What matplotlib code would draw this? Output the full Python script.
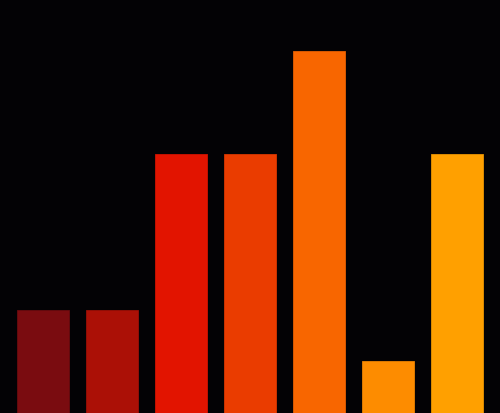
import matplotlib
matplotlib.use("Agg")
import matplotlib.pyplot as plt

categories = ["A", "B", "C", "D", "E", "F", "G"]
values = [2, 2, 5, 5, 7, 1, 5]
colors = ["#7a0c10", "#ab1006", "#e21400", "#ea3c00", "#f86600", "#fd8c00", "#ffa000"]
edges = ["#6a0a0e", "#9a0e05", "#d01200", "#d83600", "#e45e00", "#ea8100", "#ea9300"]

fig = plt.figure(figsize=(5, 4.14), dpi=100, facecolor="#030205")
ax = fig.add_axes([0, 0, 1, 1])
ax.set_facecolor("#030205")

x = range(len(categories))
ax.bar(x, values, width=0.74, color=colors, edgecolor=edges, linewidth=0.6)

ax.set_xlim(-0.623, 6.623)
ax.set_ylim(0, 8)
ax.axis("off")

fig.savefig("out.png", dpi=100, facecolor=fig.get_facecolor())
